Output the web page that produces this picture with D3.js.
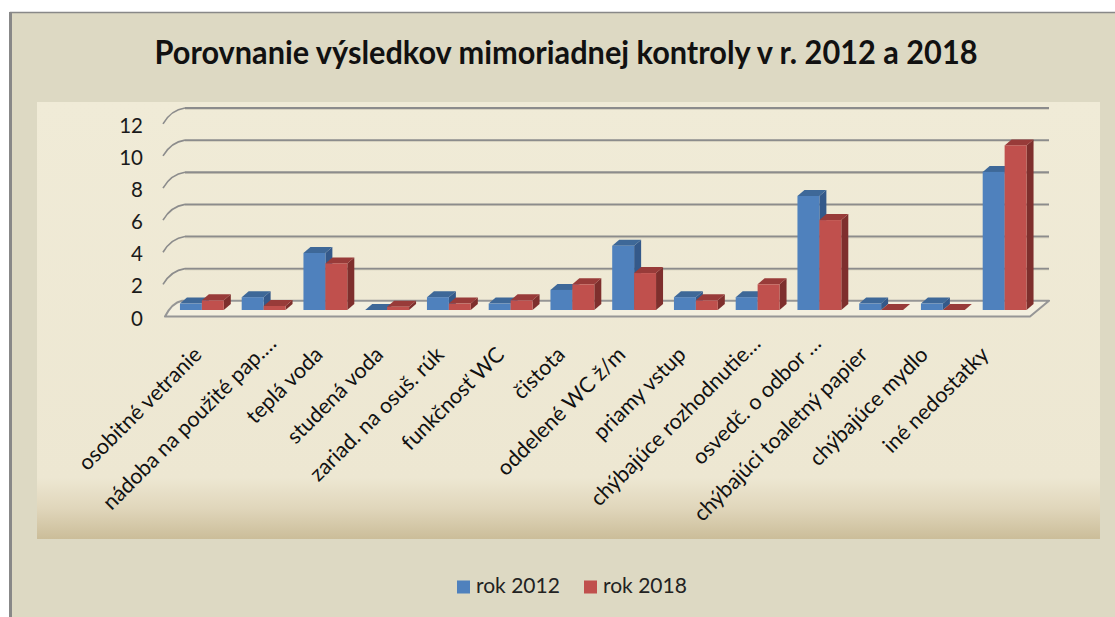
<!DOCTYPE html>
<html>
<head>
<meta charset="utf-8">
<script src="https://cdn.jsdelivr.net/npm/d3@7"></script>
<style>
  html, body { margin: 0; padding: 0; background: #ffffff; }
  svg { display: block; }
</style>
</head>
<body>
<svg id="chart" width="1115" height="617"></svg>
<script>
// ---- data ----
const categories = [
  "osobitné vetranie",
  "nádoba na použité pap.…",
  "teplá voda",
  "studená voda",
  "zariad. na osuš. rúk",
  "funkčnosť WC",
  "čistota",
  "oddelené WC ž/m",
  "priamy vstup",
  "chýbajúce rozhodnutie…",
  "osvedč. o odbor …",
  "chýbajúci toaletný papier",
  "chýbajúce mydlo",
  "iné nedostatky"
];
const seriesNames = ["rok 2012", "rok 2018"];
const values2012 = [0.4, 0.8, 3.55, 0, 0.8, 0.4, 1.25, 4.0, 0.8, 0.8, 7.1, 0.4, 0.4, 8.6];
const values2018 = [0.6, 0.25, 2.9, 0.2, 0.4, 0.6, 1.6, 2.3, 0.6, 1.6, 5.6, 0, 0, 10.25];
const yTicks = [0, 2, 4, 6, 8, 10, 12];
const titleText = "Porovnanie výsledkov mimoriadnej kontroly v r. 2012 a 2018";

// ---- styles ----
const colors = {
  front: ["#4F81BD", "#C0504D"],
  top:   ["#3E6898", "#983B39"],
  side:  ["#34598A", "#7E2F2D"]
};
const svg = d3.select("#chart");

// gradient for plot area
const defs = svg.append("defs");
const grad = defs.append("linearGradient").attr("id", "plotGrad")
  .attr("x1", 0).attr("y1", 0).attr("x2", 0).attr("y2", 1);
[[0, "#F0EBD7"], [0.86, "#EDE7D2"], [0.93, "#E0D6BB"], [1, "#CBBD99"]]
  .forEach(([o, c]) => grad.append("stop").attr("offset", o).attr("stop-color", c));

// chart area
svg.append("rect").attr("x", 10.5).attr("y", 12.5).attr("width", 1120).attr("height", 620)
  .attr("fill", "#DDD9C3").attr("stroke", "#888888").attr("stroke-width", 1.5);
svg.append("line").attr("x1", 10.5).attr("x2", 10.5).attr("y1", 12).attr("y2", 617)
  .attr("stroke", "#888888").attr("stroke-width", 3);

// plot area
svg.append("rect").attr("x", 37).attr("y", 102).attr("width", 1063).attr("height", 437)
  .attr("fill", "url(#plotGrad)");

// title
svg.append("text").attr("x", 566).attr("y", 64).attr("text-anchor", "middle")
  .attr("font-family", "Lato, 'Open Sans', sans-serif").attr("font-weight", "bold")
  .attr("font-size", 32).attr("fill", "#111")
  .attr("textLength", 823).attr("lengthAdjust", "spacingAndGlyphs")
  .text(titleText);

// ---- scales ----
const yMax = 12;
const yBack  = d3.scaleLinear().domain([0, yMax]).range([300.7, 108]);
const yFront = d3.scaleLinear().domain([0, yMax]).range([316.5, 123.8]);
const yBar   = d3.scaleLinear().domain([0, yMax]).range([310, 117.3]);
const x = d3.scaleBand().domain(categories).range([171, 1035.5])
  .paddingInner(0.29).paddingOuter(0.145);
const xs = d3.scaleBand().domain(seriesNames).range([0, x.bandwidth()]);
const xLabel = d3.scalePoint().domain(categories).range([203, 990]);

const backLeft = 185, backRight = 1049, frontLeft = 163, frontRight = 1030;
const depthX = 7, depthY = -6;

// back wall gridlines + left wall diagonals
const grid = svg.append("g");
yTicks.filter(v => v > 0).forEach(v => {
  grid.append("line").attr("x1", backLeft).attr("x2", backRight)
    .attr("y1", yBack(v) + 1).attr("y2", yBack(v) + 1)
    .attr("stroke", "#CFCAB8").attr("stroke-width", 1.5);
  grid.append("line").attr("x1", backLeft).attr("x2", backRight)
    .attr("y1", yBack(v)).attr("y2", yBack(v))
    .attr("stroke", "#8C8C8C").attr("stroke-width", 1.8);
  grid.append("path")
    .attr("d", `M${frontLeft},${yFront(v)} Q${frontLeft + 8},${yBack(v) + 2} ${backLeft},${yBack(v)}`)
    .attr("fill", "none").attr("stroke", "#8C8C8C").attr("stroke-width", 1.6);
});

// floor
const fl = yFront(0), bl = yBack(0);
svg.append("path")
  .attr("d", `M${frontLeft + 2},${fl} L${frontRight},${fl} L${backRight},${bl} L${backLeft - 3},${bl} Q${frontLeft + 9},${bl + 2} ${frontLeft + 2},${fl} Z`)
  .attr("fill", "#F3EFDF").attr("stroke", "#969696").attr("stroke-width", 2)
  .attr("stroke-linejoin", "round");

// ---- bars ----
const barData = [];
categories.forEach((c, i) => {
  [values2012[i], values2018[i]].forEach((v, s) => barData.push({ c, s, v }));
});
const bars = svg.append("g");
barData.forEach(d => {
  const x0 = x(d.c) + xs(seriesNames[d.s]);
  const w = xs.bandwidth();
  const yb = yBar(0), yt = yBar(d.v);
  const g = bars.append("g");
  g.append("path")
    .attr("d", `M${x0 + w},${yt} L${x0 + w + depthX},${yt + depthY} L${x0 + w + depthX},${yb + depthY} L${x0 + w},${yb} Z`)
    .attr("fill", colors.side[d.s]);
  g.append("path")
    .attr("d", `M${x0},${yt} L${x0 + depthX},${yt + depthY} L${x0 + w + depthX},${yt + depthY} L${x0 + w},${yt} Z`)
    .attr("fill", colors.top[d.s]);
  if (d.v > 0) {
    g.append("rect").attr("x", x0).attr("y", yt).attr("width", w).attr("height", yb - yt)
      .attr("fill", colors.front[d.s]);
  }
});

// ---- y axis labels ----
svg.append("g").selectAll("text").data(yTicks).join("text")
  .attr("x", 143).attr("y", v => yFront(v) + 1)
  .attr("text-anchor", "end").attr("dominant-baseline", "central")
  .attr("font-family", "Lato, 'Open Sans', sans-serif").attr("font-size", 20.5).attr("fill", "#1a1a1a")
  .text(v => v);

// ---- category labels ----
svg.append("g").selectAll("text").data(categories).join("text")
  .attr("transform", c => {
    const shift = c.endsWith("…") ? 14 : 0;
    return `translate(${xLabel(c) + shift},${356 - shift * 0.8}) rotate(-45)`;
  })
  .attr("text-anchor", "end")
  .attr("font-family", "Lato, 'Open Sans', sans-serif").attr("font-size", 21.5).attr("fill", "#111")
  .text(c => c);

// ---- legend ----
const legendX = [457, 584];
const legend = svg.append("g");
seriesNames.forEach((n, i) => {
  legend.append("rect").attr("x", legendX[i]).attr("y", 580.5).attr("width", 13).attr("height", 13)
    .attr("fill", colors.front[i]);
  legend.append("text").attr("x", legendX[i] + 19).attr("y", 593)
    .attr("font-family", "Lato, 'Open Sans', sans-serif").attr("font-size", 21).attr("fill", "#222")
    .text(n);
});
</script>
</body>
</html>
